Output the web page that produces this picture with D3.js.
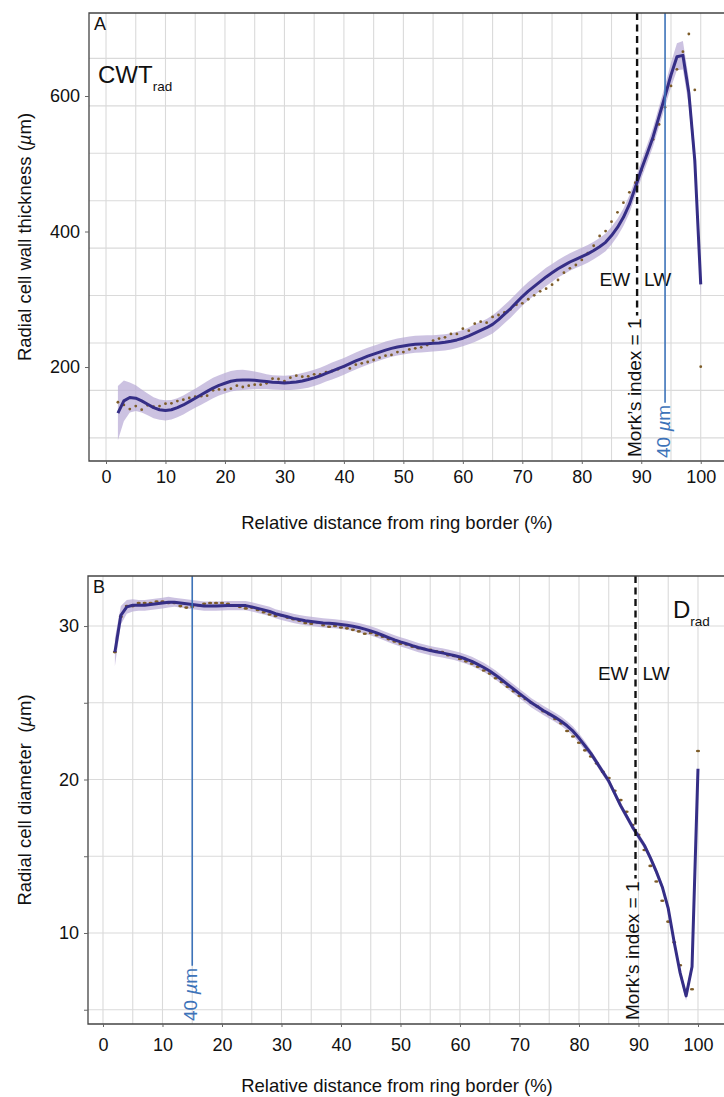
<!DOCTYPE html>
<html>
<head>
<meta charset="utf-8">
<script src="https://cdn.jsdelivr.net/npm/d3@7"></script>
<style>
  body { margin: 0; background: #fff; }
  svg text { font-family: "Liberation Sans", Arial, Helvetica, sans-serif; fill: #111; }
</style>
</head>
<body>
<svg id="chart" width="724" height="1097"></svg>
<script>
// relative distance from ring border (%), one sample per percent
const distance = [2,3,4,5,6,7,8,9,10,11,12,13,14,15,16,17,18,19,20,21,22,23,24,25,26,27,28,29,30,31,
  32,33,34,35,36,37,38,39,40,41,42,43,44,45,46,47,48,49,50,51,52,53,54,55,56,57,58,59,60,61,
  62,63,64,65,66,67,68,69,70,71,72,73,74,75,76,77,78,79,80,81,82,83,84,85,86,87,88,89,90,91,
  92,93,94,95,96,97,98,99,100];

// panel A - radial cell wall thickness
const cwtPoints = [148,144,138,142.4,137,143.4,141.5,142.4,145.9,146.4,
  149.8,151.8,154.3,156.2,157,157.7,165.6,167,166.6,168,
  172.5,170.5,172.5,174,174,176,182.8,182.3,179,184.3,
  187.2,185.7,186.2,189.2,189.2,192.6,194.1,196.6,201,198,
  203.5,205.4,207.4,210.4,213.8,216.8,217.8,222,222,226,
  227.6,229,232.5,239,242,243.8,248.8,248.8,256.6,253.7,
  264,267,265.5,274,276.8,280.7,285,292,294,300,
  305.8,311.7,315.7,321.5,328.4,339.2,345.6,350.6,358,368,
  379,393.4,400.7,414.5,428.3,442.6,457.8,472,490,515.4,
  536,558,583.3,614.8,639.4,665.4,691.5,608.9,200.5];
const cwtFit = [132,150,155,154,150,145,140,137,136,137,
  140,144,149,154,159,164,169,173,176,179,
  180.5,181,181,180.5,179.5,178.5,177.5,177,176.5,177,
  178,179.5,181.5,184,187,190.5,194,197.5,201,205,
  209,212.5,216,219,222,225,227.5,229.5,231,232.5,
  233.5,234,234.5,235,235.5,236.5,238,240,242.5,246,
  250,254,258,263,270,278,286,295,304,312,
  319,326,333,339,345,350,355,359,363,367,
  372,377.5,384,394,406,421,440,465,491,515,
  540,570,600,631,658,660,605,505,322];
const cwtBand = [40,30,22,19,17,16,15.5,15,15,14.5,
  14,14,14,14,14.5,15,15,15,15,15,
  15,15,14,13,12,11,10.5,10.5,10.5,11,
  11,11.5,12,12,12,12,12.5,12.5,12.5,12.5,
  12.5,12.5,12.5,12.5,12.5,12.5,12.5,12.5,12.5,12.5,
  12.5,12.5,12.5,12,12,12,12,12,12,12.5,
  13,13,13,13.5,13.5,13.5,13.5,13.5,13.5,13.5,
  13.5,13.5,13.5,13,13,13,13,13,13,13,
  13,13,13,13,13,13,13,13,13,13.5,
  14,15,16,18,20,21,20,19,20];

// panel B - radial cell diameter
const diamPoints = [28.3,30.6,31.3,31.3,31.5,31.5,31.5,31.6,31.6,31.5,
  31.5,31.3,31.2,31.25,31.35,31.45,31.5,31.5,31.5,31.45,
  31.35,31.25,31.15,31.2,31.05,30.9,30.75,30.65,30.7,30.55,
  30.45,30.35,30.2,30.15,30.25,30.05,29.95,30.0,29.9,29.85,
  29.75,29.65,29.5,29.55,29.4,29.3,29.15,29.0,28.85,28.8,
  28.65,28.55,28.5,28.45,28.35,28.3,28.1,28.05,27.85,27.7,
  27.55,27.35,27.1,26.9,26.6,26.35,26.05,25.75,25.45,25.25,
  25.0,24.75,24.45,24.25,23.95,23.66,23.16,22.8,22.4,21.9,
  21.5,21.05,20.5,20.1,19.27,18.66,17.9,17.04,16.4,15.41,
  14.37,13.35,12.1,10.74,9.39,7.9,6.2,6.33,21.86];
const diamFit = [28.3,30.7,31.25,31.35,31.35,31.35,31.4,31.45,31.5,31.55,
  31.55,31.5,31.45,31.4,31.35,31.3,31.3,31.3,31.32,31.33,
  31.33,31.33,31.33,31.25,31.15,31.05,30.95,30.8,30.7,30.6,
  30.5,30.42,30.35,30.3,30.25,30.2,30.18,30.15,30.1,30.05,
  29.98,29.9,29.8,29.68,29.55,29.4,29.25,29.1,28.97,28.85,
  28.72,28.6,28.5,28.4,28.32,28.25,28.17,28.08,27.98,27.85,
  27.7,27.5,27.3,27.07,26.8,26.5,26.2,25.9,25.6,25.3,
  25.0,24.75,24.5,24.28,24.05,23.8,23.5,23.15,22.7,22.2,
  21.7,21.1,20.5,19.9,19.1,18.3,17.6,16.9,16.3,15.7,
  14.9,14.0,13.0,11.6,9.4,7.4,5.9,7.8,20.7];
const diamBand = [0.9,0.6,0.45,0.4,0.35,0.35,0.35,0.35,0.35,0.35,
  0.3,0.3,0.3,0.3,0.3,0.3,0.3,0.3,0.3,0.3,
  0.3,0.3,0.3,0.3,0.3,0.3,0.3,0.3,0.3,0.3,
  0.3,0.3,0.3,0.3,0.3,0.3,0.3,0.3,0.3,0.3,
  0.3,0.3,0.3,0.3,0.3,0.3,0.3,0.3,0.3,0.3,
  0.3,0.3,0.3,0.3,0.3,0.3,0.3,0.3,0.3,0.3,
  0.3,0.3,0.3,0.3,0.3,0.3,0.3,0.3,0.3,0.3,
  0.3,0.3,0.3,0.3,0.3,0.3,0.3,0.3,0.3,0.3,
  0.22,0.22,0.22,0.22,0.22,0.22,0.22,0.22,0.22,0.22,
  0.22,0.22,0.22,0.22,0.3,0.3,0.3,0.3,0.3];

// ticks and grid
const xTicks = [0,10,20,30,40,50,60,70,80,90,100];
const xGrid = [0,5,10,15,20,25,30,35,40,45,50,55,60,65,70,75,80,85,90,95,100];
const cwtTicks = [200,400,600];
const cwtGrid = [95.5,165.5,235.5,305.5,375.5,445.5,515.5,585.5,655.5];
const diamTicks = [10,20,30];
const diamTickMarks = [5,10,15,20,25,30];
const diamGrid = [5,10,15,20,25,30];

// reference lines (% distance)
const morkA = 89.3, micronA = 94.0;
const morkB = 89.5, micronB = 15.0;

const svg = d3.select("#chart");

function drawPanel(p) {
  const x = d3.scaleLinear().domain(p.xDomain).range([p.left, p.right]);
  const y = d3.scaleLinear().domain(p.yDomain).range([p.bottom, p.top]);
  const g = svg.append("g");

  const clipId = "clip" + p.letter;
  svg.append("clipPath").attr("id", clipId).append("rect")
    .attr("x", p.left).attr("y", p.top)
    .attr("width", p.right - p.left).attr("height", p.bottom - p.top);

  // grid
  g.append("g").selectAll("line").data(xGrid).join("line")
    .attr("x1", d => x(d)).attr("x2", d => x(d))
    .attr("y1", p.top).attr("y2", p.bottom)
    .attr("stroke", "#dadada").attr("stroke-width", 1.1);
  g.append("g").selectAll("line").data(p.yGrid).join("line")
    .attr("x1", p.left).attr("x2", p.right)
    .attr("y1", d => y(d)).attr("y2", d => y(d))
    .attr("stroke", "#dadada").attr("stroke-width", 1.1);

  const plot = g.append("g").attr("clip-path", `url(#${clipId})`);

  // EW / LW
  g.append("text").attr("x", x(p.mork) - 7).attr("y", p.ewY)
    .attr("text-anchor", "end").style("font-size", "19px").text("EW");
  g.append("text").attr("x", x(p.mork) + 7).attr("y", p.ewY)
    .attr("text-anchor", "start").style("font-size", "19px").text("LW");

  // Mork's index line and label
  const mork = g.append("text")
    .attr("transform", `translate(${x(p.mork) + 3.5},${p.bottom - 4}) rotate(-90)`)
    .attr("text-anchor", "start").style("font-size", "19px")
    .text("Mork\u2019s index = 1");
  const morkLen = mork.node().getComputedTextLength();
  g.append("line")
    .attr("x1", x(p.mork)).attr("x2", x(p.mork))
    .attr("y1", p.top).attr("y2", p.bottom - 4 - morkLen - 3)
    .attr("stroke", "#111").attr("stroke-width", 2.4)
    .attr("stroke-dasharray", "7,4.5");

  // 40 µm line and label
  const mic = g.append("text")
    .attr("transform", `translate(${x(p.micron) + 4.5},${p.bottom - 3}) rotate(-90)`)
    .attr("text-anchor", "start").style("font-size", "19px").style("fill", "#3d73b9");
  mic.append("tspan").text("40 ");
  mic.append("tspan").style("font-style", "italic").text("\u00b5");
  mic.append("tspan").text("m");
  const micLen = mic.node().getComputedTextLength();
  g.append("line")
    .attr("x1", x(p.micron)).attr("x2", x(p.micron))
    .attr("y1", p.top).attr("y2", p.bottom - 3 - micLen - 2)
    .attr("stroke", "#3d73b9").attr("stroke-width", 1.6);

  // confidence band
  const rows = distance.map((d, i) => ({ d, pt: p.points[i], fit: p.fit[i], band: p.band[i] }));
  plot.append("path").datum(rows)
    .attr("fill", "#b9aad6").attr("fill-opacity", 0.72)
    .attr("d", d3.area().x(r => x(r.d)).y0(r => y(r.fit - r.band)).y1(r => y(r.fit + r.band)));

  // observed points
  plot.append("g").selectAll("ellipse").data(rows).join("ellipse")
    .attr("cx", r => x(r.d)).attr("cy", r => y(r.pt))
    .attr("rx", p.dotRx).attr("ry", p.dotRy)
    .attr("fill", "#7d5c28");

  // fitted line
  plot.append("path").datum(rows)
    .attr("fill", "none").attr("stroke", "#352e86").attr("stroke-width", 3)
    .attr("stroke-linejoin", "round")
    .attr("d", d3.line().x(r => x(r.d)).y(r => y(r.fit)));

  // frame (left, top, bottom)
  g.append("path")
    .attr("d", `M${p.right + 2},${p.top}H${p.left}V${p.bottom}H${p.right + 2}`)
    .attr("fill", "none").attr("stroke", "#444").attr("stroke-width", 1.3);

  // axes
  const ax = g.append("g").attr("transform", `translate(0,${p.bottom})`)
    .call(d3.axisBottom(x).tickValues(xTicks).tickSize(3).tickPadding(p.xPad).tickFormat(d3.format("d")));
  ax.select(".domain").remove();
  ax.selectAll("text").style("font-size", "18px").attr("fill", "#111");
  ax.selectAll("line").attr("stroke", "#666");

  const ay = g.append("g").attr("transform", `translate(${p.left},0)`)
    .call(d3.axisLeft(y).tickValues(p.yTickMarks).tickSize(4).tickPadding(5)
      .tickFormat(d => p.yTicks.includes(d) ? d : ""));
  ay.select(".domain").remove();
  ay.selectAll("text").style("font-size", "18px").attr("fill", "#111");
  ay.selectAll("line").attr("stroke", "#666");

  // titles
  g.append("text").attr("x", 397).attr("y", p.xTitleY)
    .attr("text-anchor", "middle").style("font-size", "18.5px")
    .text("Relative distance from ring border (%)");
  const yt = g.append("text")
    .attr("transform", `translate(31,${(p.top + p.bottom) / 2}) rotate(-90)`)
    .attr("text-anchor", "middle").style("font-size", "18.5px")
    .style("white-space", "pre");
  yt.append("tspan").text(p.yTitle + "(");
  yt.append("tspan").style("font-style", "italic").text("\u00b5");
  yt.append("tspan").text("m)");

  // panel letter and variable label
  g.append("text").attr("x", p.left + 5).attr("y", p.top + 17)
    .style("font-size", "18px").text(p.letter);
  const v = g.append("text").attr("x", p.varX).attr("y", p.varY).style("font-size", "24px");
  v.append("tspan").text(p.varName);
  v.append("tspan").attr("dy", 8).style("font-size", "13.5px").text("rad");
}

drawPanel({
  letter: "A", left: 89, right: 725, top: 13, bottom: 461,
  xDomain: [-2.86, 104.08], yDomain: [61.3, 722.5],
  points: cwtPoints, fit: cwtFit, band: cwtBand,
  yGrid: cwtGrid, yTicks: cwtTicks, yTickMarks: cwtTicks,
  mork: morkA, micron: micronA, ewY: 286,
  xPad: 6, xTitleY: 529,
  yTitle: "Radial cell wall thickness ",
  varName: "CWT", varX: 98, varY: 83,
  dotRx: 1.4, dotRy: 1.4
});

drawPanel({
  letter: "B", left: 88, right: 725, top: 576, bottom: 1024,
  xDomain: [-2.52, 104.54], yDomain: [4.07, 33.26],
  points: diamPoints, fit: diamFit, band: diamBand,
  yGrid: diamGrid, yTicks: diamTicks, yTickMarks: diamTickMarks,
  mork: morkB, micron: micronB, ewY: 680,
  xPad: 11, xTitleY: 1092,
  yTitle: "Radial cell diameter  ",
  varName: "D", varX: 673, varY: 618,
  dotRx: 2.1, dotRy: 1.3
});
</script>
</body>
</html>
